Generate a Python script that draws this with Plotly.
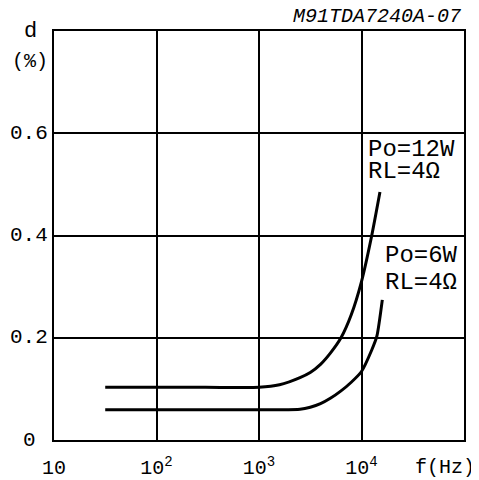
import plotly.graph_objects as go

# Data (THD d in % vs frequency in Hz)
freq_12w = [31.6, 300, 1000, 1585, 2512, 3162, 3981, 5012, 6310, 7943, 10000, 12589, 15136]
thd_12w = [0.103, 0.103, 0.103, 0.108, 0.122, 0.132, 0.148, 0.171, 0.200, 0.245, 0.310, 0.400, 0.485]

freq_6w = [31.6, 300, 1000, 1585, 2512, 3162, 3981, 5012, 6310, 7943, 10000, 12589, 14125, 15960]
thd_6w = [0.059, 0.059, 0.059, 0.059, 0.060, 0.064, 0.071, 0.082, 0.096, 0.113, 0.134, 0.176, 0.203, 0.274]

x_tickvals = [10, 100, 1000, 10000]
x_ticktext = ["10", "10<sup>2</sup>", "10<sup>3</sup>", "10<sup>4</sup>"]
y_tickvals = [0, 0.2, 0.4, 0.6]
y_ticktext = ["0", "0.2", "0.4", "0.6"]

FONT = "Liberation Mono"

# page offset (body margin) compensation
OFF = 8
W, H = 479 - OFF, 480 - OFF
ML, MR, MT, MB = 54 - OFF, 15, 31 - OFF, 40
PW = W - ML - MR
PH = H - MT - MB

fig = go.Figure()
for xs, ys in [(freq_12w, thd_12w), (freq_6w, thd_6w)]:
    fig.add_trace(go.Scatter(x=xs, y=ys, mode="lines",
                             line=dict(color="black", width=3, shape="spline", smoothing=0.6),
                             showlegend=False, hoverinfo="skip"))

fig.update_layout(
    width=W, height=H,
    margin=dict(l=ML, r=MR, t=MT, b=MB),
    paper_bgcolor="white", plot_bgcolor="white",
    font=dict(family=FONT, size=20, color="black"),
    xaxis=dict(type="log", range=[1, 5], tickvals=x_tickvals, ticktext=x_ticktext,
               showgrid=True, gridcolor="black", gridwidth=2,
               showline=True, linecolor="black", linewidth=2, mirror=True,
               ticks="", ticklabelstandoff=8, zeroline=False, automargin=False,
               tickfont=dict(family=FONT, size=20, color="black")),
    yaxis=dict(range=[0, 0.8], tickvals=[0.2, 0.4, 0.6],
               showgrid=True, gridcolor="black", gridwidth=2,
               showline=True, linecolor="black", linewidth=2, mirror=True,
               ticks="", showticklabels=False, zeroline=False, automargin=False),
)

def fx(xpage):
    return (xpage - 54) / PW

def fy(ypage):
    return (440 - ypage) / PH

# y tick labels (centered, as in the reference)
for v, t in zip(y_tickvals, y_ticktext):
    fig.add_annotation(x=fx(29), xref="paper", y=v, yref="y", text=t, showarrow=False,
                       xanchor="center", yanchor="middle",
                       font=dict(family=FONT, size=21, color="black"))

def px_ann(text, x, y, size, xanchor="center", yanchor="middle", italic=False):
    fig.add_annotation(x=fx(x), y=fy(y), xref="paper", yref="paper", text=text, showarrow=False,
                       xanchor=xanchor, yanchor=yanchor,
                       font=dict(family=FONT, size=size, color="black",
                                 style="italic" if italic else "normal"))

px_ann("d", 30, 31, 22)
px_ann("(%)", 30, 61, 20)
px_ann("f(Hz)", 445, 467, 20)
px_ann("M91TDA7240A-07", 463, 16, 20, xanchor="right", italic=True)
px_ann("Po=12W", 366, 149, 24, xanchor="left")
px_ann("RL=4Ω", 366, 171, 24, xanchor="left")
px_ann("Po=6W", 383, 255, 24, xanchor="left")
px_ann("RL=4Ω", 383, 282, 24, xanchor="left")

fig.write_html("out.html")
